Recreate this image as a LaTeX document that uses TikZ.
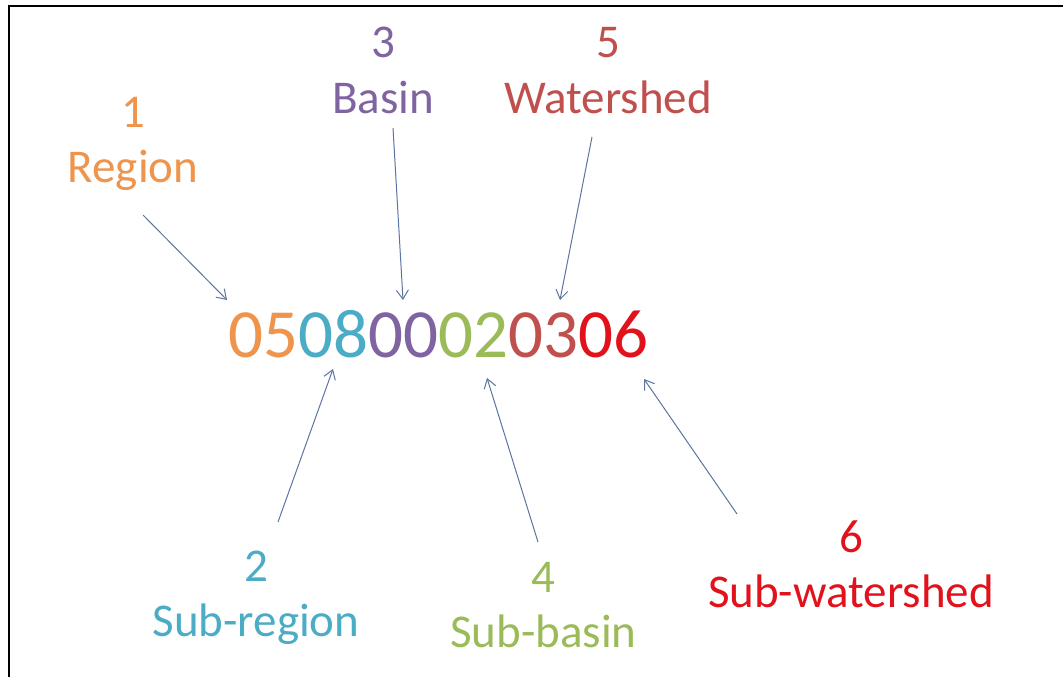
\documentclass[tikz,border=0pt]{standalone}
\usepackage{fontspec}
\setmainfont{Carlito}
\usetikzlibrary{arrows.meta}

\definecolor{cRegion}{RGB}{238,148,76}
\definecolor{cSubRegion}{RGB}{75,172,198}
\definecolor{cBasin}{RGB}{128,100,162}
\definecolor{cSubBasin}{RGB}{155,187,89}
\definecolor{cWatershed}{RGB}{192,80,77}
\definecolor{cSubWatershed}{RGB}{226,18,28}
\definecolor{cArrow}{RGB}{92,116,160}

\tikzset{
  label/.style={align=center, inner sep=0pt, anchor=base,
    font=\fontsize{47}{55}\selectfont},
  pointer/.style={draw=cArrow, line width=1pt,
    -{Straight Barb[length=9pt,width=12pt,line width=1pt]}},
  frame/.style={line width=2pt, line cap=rect}
}

\begin{document}
\begin{tikzpicture}[x=1pt, y=-1pt]
  \useasboundingbox (0,0) rectangle (1063,677);
  \fill[white] (0,0) rectangle (1063,677);

  % frame along the left and top edges
  \draw[frame] (9,677) -- (9,6.5) -- (1063,6.5);

  % the twelve-digit code
  \node[inner sep=0pt, anchor=base,
        font=\fontsize{69}{80}\selectfont] (code) at (438.5,357)
    {\textcolor{cRegion}{05}\textcolor{cSubRegion}{08}\textcolor{cBasin}{00}\textcolor{cSubBasin}{02}\textcolor{cWatershed}{03}\textcolor{cSubWatershed}{06}};

  % level labels (anchored at the baseline of the word line)
  \node[label, text=cRegion]       (region)   at (133,182)   {1\\Region};
  \node[label, text=cBasin]        (basin)    at (383,113)   {3\\Basin};
  \node[label, text=cWatershed]    (wshed)    at (608,113)   {5\\Watershed};
  \node[label, text=cSubRegion]    (subreg)   at (256,636)   {2\\Sub-region};
  \node[label, text=cSubBasin]     (subbasin) at (543.5,647) {4\\Sub-basin};
  \node[label, text=cSubWatershed] (subwshed) at (851,607)   {6\\Sub-watershed};

  % arrow tails and tips
  \coordinate (regionT)   at (143,215);
  \coordinate (regionH)   at (227,300);
  \coordinate (basinT)    at (393,128);
  \coordinate (basinH)    at (403,300);
  \coordinate (wshedT)    at (592,137);
  \coordinate (wshedH)    at (560,300);
  \coordinate (subregT)   at (278,522);
  \coordinate (subregH)   at (333,369);
  \coordinate (subbasinT) at (538,542);
  \coordinate (subbasinH) at (487,378);
  \coordinate (subwshedT) at (737,514);
  \coordinate (subwshedH) at (644,379);

  \draw[pointer] (regionT)   -- (regionH);
  \draw[pointer] (basinT)    -- (basinH);
  \draw[pointer] (wshedT)    -- (wshedH);
  \draw[pointer] (subregT)   -- (subregH);
  \draw[pointer] (subbasinT) -- (subbasinH);
  \draw[pointer] (subwshedT) -- (subwshedH);
\end{tikzpicture}
\end{document}
